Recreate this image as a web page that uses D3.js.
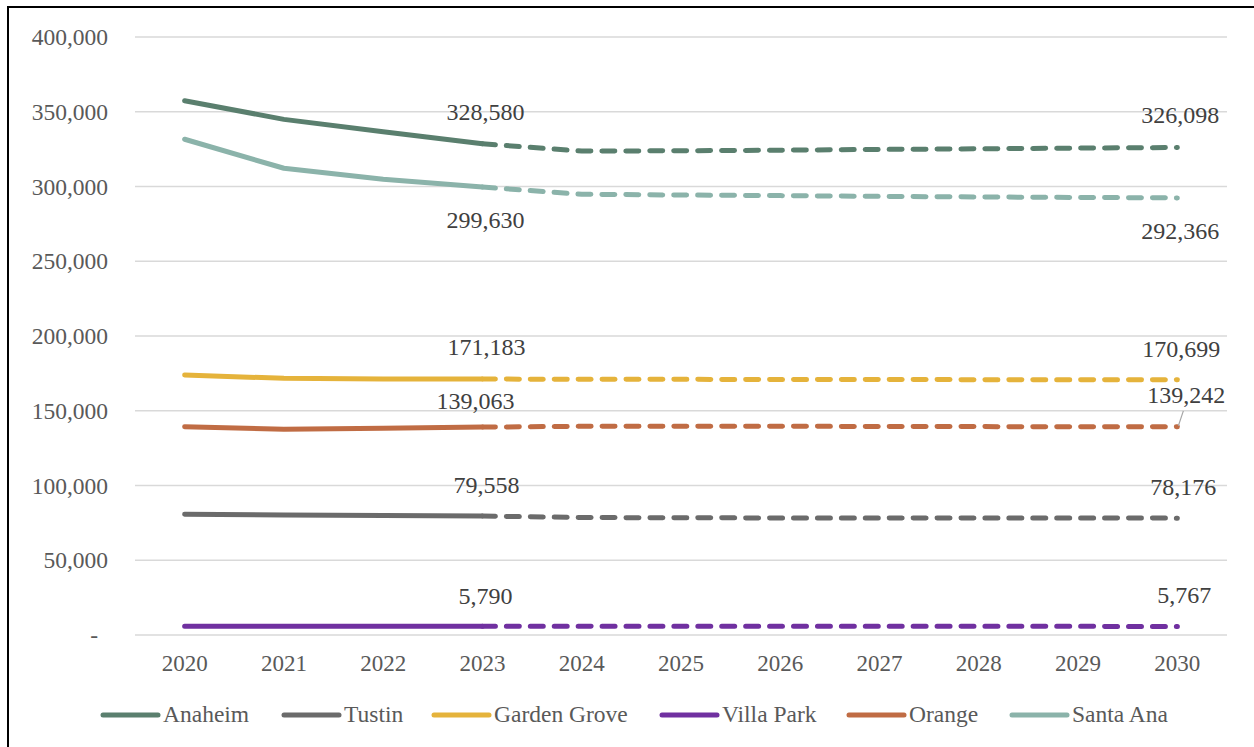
<!DOCTYPE html>
<html>
<head>
<meta charset="utf-8">
<script src="https://cdn.jsdelivr.net/npm/d3@7"></script>
<style>
  body { margin: 0; background: #fff; }
  text { font-family: "Liberation Serif", "Times New Roman", serif; }
</style>
</head>
<body>
<div id="chart"></div>
<script>
const years = ["2020", "2021", "2022", "2023", "2024", "2025", "2026", "2027", "2028", "2029", "2030"]
const yTicks = [0, 50000, 100000, 150000, 200000, 250000, 300000, 350000, 400000]

const cities = ["Anaheim", "Tustin", "Garden Grove", "Villa Park", "Orange", "Santa Ana"]
const colors = ["#5a7f6e", "#6b6b6b", "#e5b33b", "#7030a0", "#c06c44", "#8bb3aa"]

const anaheim = [357400, 344900, 336600, 328580, 323700, 323900, 324300, 324800, 325200, 325700, 326098]
const tustin = [80700, 80300, 79900, 79558, 78600, 78400, 78300, 78300, 78200, 78200, 78176]
const gardenGrove = [173900, 171700, 171300, 171183, 171100, 171000, 170950, 170900, 170800, 170750, 170699]
const villaPark = [5810, 5800, 5795, 5790, 5785, 5782, 5780, 5777, 5774, 5770, 5767]
const orange = [139300, 137600, 138260, 139063, 139600, 139700, 139600, 139500, 139400, 139300, 139242]
const santaAna = [331600, 312200, 304800, 299630, 294800, 294300, 293900, 293400, 293000, 292700, 292366]

// label offsets from the point: [dx, dy baseline] at 2023 and at 2030
const labelPos2023 = [[3, -24], [4, -23], [4, -24], [3, -22], [-7, -18], [3, 41]]
const labelPos2030 = [[3, -24], [6, -23], [4, -23], [7, -23], [9, -24], [3, 41]]

const seriesValues = [anaheim, tustin, gardenGrove, villaPark, orange, santaAna]
const splitIndex = 3

const width = 1254
const height = 747
const margin = {top: 37, right: 27, bottom: 112, left: 135}

const svg = d3.select('#chart')
  .append('svg')
  .attr('width', width)
  .attr('height', height)

// outer frame
svg.append('rect')
  .attr('x', 8).attr('y', 7)
  .attr('width', width + 10).attr('height', height + 10)
  .attr('fill', 'none')
  .attr('stroke', '#000')
  .attr('stroke-width', 2)

const x = d3.scaleBand().domain(years).range([margin.left, width - margin.right])
const y = d3.scaleLinear().domain([0, 400000]).range([height - margin.bottom, margin.top])
const cx = d => x(d) + x.bandwidth() / 2

// gridlines
svg.append('g')
  .selectAll('line')
  .data(yTicks)
  .enter()
  .append('line')
  .attr('x1', margin.left)
  .attr('x2', width - margin.right)
  .attr('y1', d => y(d))
  .attr('y2', d => y(d))
  .attr('stroke', '#d9d9d9')
  .attr('stroke-width', 1.5)

// y axis labels
const yAxis = svg.append('g')
  .attr('transform', `translate(${margin.left - 27},0)`)
  .call(d3.axisLeft(y).tickValues(yTicks).tickSize(0).tickPadding(0)
    .tickFormat(d => d === 0 ? '-' : d3.format(',')(d)))
yAxis.select('.domain').remove()
yAxis.selectAll('text')
  .attr('font-size', 23.5)
  .attr('fill', '#595959')
yAxis.selectAll('.tick')
  .filter(d => d === 0)
  .select('text')
  .attr('x', -10)

// x axis labels
const xAxis = svg.append('g')
  .attr('transform', `translate(0,${height - margin.bottom + 20})`)
  .call(d3.axisBottom(x).tickSize(0).tickPadding(0))
xAxis.select('.domain').remove()
xAxis.selectAll('text')
  .attr('font-size', 23)
  .attr('fill', '#595959')

const line = d3.line()
  .x(d => cx(d.year))
  .y(d => y(d.value))

const lines = svg.append('g')
seriesValues.forEach((vals, i) => {
  const pts = years.map((yr, j) => ({year: yr, value: vals[j]}))
  lines.append('path')
    .datum(pts.slice(0, splitIndex + 1))
    .attr('d', line)
    .attr('fill', 'none')
    .attr('stroke', colors[i])
    .attr('stroke-width', 5)
    .attr('stroke-linecap', 'round')
    .attr('stroke-linejoin', 'round')
  const dashed = lines.append('path')
    .datum(pts.slice(splitIndex))
    .attr('d', line)
    .attr('fill', 'none')
    .attr('stroke', colors[i])
    .attr('stroke-width', 5)
    .attr('stroke-linecap', 'round')
    .attr('stroke-linejoin', 'round')
  // fit the dash period so the path ends on a short dash (dot), as in the original
  const len = dashed.node().getTotalLength()
  const n = Math.round(len / 24)
  const period = (len - 1) / n
  const dash = period * 13 / 24
  dashed.attr('stroke-dasharray', `${dash},${period - dash}`)
})

// data labels
const labels = svg.append('g')
seriesValues.forEach((vals, i) => {
  const a = labelPos2023[i]
  labels.append('text')
    .attr('x', cx(years[3]) + a[0])
    .attr('y', y(vals[3]) + a[1])
    .attr('text-anchor', 'middle')
    .attr('font-size', 24)
    .attr('fill', '#404040')
    .text(d3.format(',')(vals[3]))
  const b = labelPos2030[i]
  labels.append('text')
    .attr('x', cx(years[10]) + b[0])
    .attr('y', y(vals[10]) + b[1])
    .attr('text-anchor', 'middle')
    .attr('font-size', 24)
    .attr('fill', '#404040')
    .text(d3.format(',')(vals[10]))
})

// leader line for Orange 2030
labels.append('line')
  .attr('x1', cx(years[10]) + 1)
  .attr('y1', y(orange[10]) - 1)
  .attr('x2', cx(years[10]) + 6)
  .attr('y2', y(orange[10]) - 16)
  .attr('stroke', '#a6a6a6')
  .attr('stroke-width', 1.2)

// legend
const legendX = [103, 284, 434, 662, 849, 1012]
const legend = svg.append('g')
  .selectAll('g')
  .data(cities)
  .enter()
  .append('g')
  .attr('transform', (d, i) => `translate(${legendX[i]},715)`)
legend.append('line')
  .attr('x1', 0).attr('x2', 55)
  .attr('stroke', (d, i) => colors[i])
  .attr('stroke-width', 5)
  .attr('stroke-linecap', 'round')
legend.append('text')
  .attr('x', 60)
  .attr('y', 7)
  .attr('font-size', 23.5)
  .attr('fill', '#595959')
  .text(d => d)
</script>
</body>
</html>
